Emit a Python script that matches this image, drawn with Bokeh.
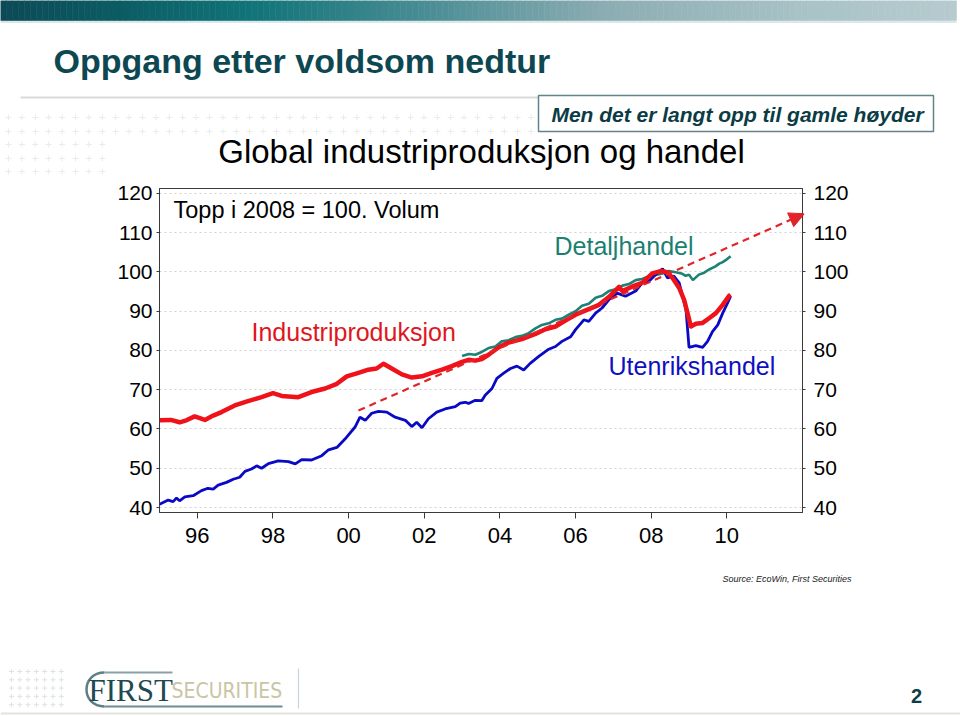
import numpy as np
from bokeh.plotting import figure
from bokeh.layouts import column
from bokeh.models import Range1d, LinearAxis, FixedTicker, Arrow, NormalHead, Plot
from bokeh.core.properties import value
from bokeh.embed import file_html
from bokeh.resources import INLINE

# ---------------- data ----------------
red_years = [1995.00, 1995.30, 1995.53, 1995.71, 1995.93, 1996.20, 1996.42, 1996.64, 1996.99,
             1997.34, 1997.70, 1998.00, 1998.23, 1998.67, 1999.02, 1999.38, 1999.69, 1999.95,
             2000.26, 2000.52, 2000.74, 2000.92, 2001.14, 2001.41, 2001.67, 2001.94, 2002.20,
             2002.47, 2002.73, 2003.00, 2003.17, 2003.35, 2003.52, 2003.70, 2003.97, 2004.23,
             2004.58, 2004.94, 2005.20, 2005.47, 2005.73, 2006.00, 2006.35, 2006.62, 2006.88,
             2007.15, 2007.24, 2007.50, 2007.76, 2008.03, 2008.25, 2008.43, 2008.56, 2008.74,
             2008.87, 2008.96, 2009.05, 2009.18, 2009.36, 2009.53, 2009.71, 2009.89, 2010.06,
             2010.10]
red_values = [62.2, 62.3, 61.7, 62.2, 63.2, 62.3, 63.4, 64.3, 66.0,
              67.1, 68.1, 69.1, 68.4, 68.1, 69.4, 70.3, 71.5, 73.4,
              74.3, 75.1, 75.4, 76.6, 75.4, 73.9, 73.1, 73.4, 74.3,
              75.1, 76.0, 77.1, 77.6, 77.4, 77.8, 78.9, 80.8, 82.0,
              82.9, 84.2, 85.4, 86.1, 87.6, 89.1, 90.5, 91.6, 93.6,
              96.2, 95.1, 96.3, 97.2, 99.6, 100.2, 99.9, 98.5, 95.9,
              92.9, 89.5, 86.1, 86.8, 87.0, 88.2, 89.5, 91.6, 93.9,
              94.2]

blue_years = [1995.00, 1995.23, 1995.36, 1995.45, 1995.53, 1995.67, 1995.89, 1996.11, 1996.28,
              1996.42, 1996.55, 1996.77, 1996.95, 1997.12, 1997.26, 1997.43, 1997.57, 1997.70,
              1997.88, 1998.14, 1998.41, 1998.59, 1998.76, 1999.02, 1999.29, 1999.47, 1999.69,
              1999.91, 2000.17, 2000.30, 2000.44, 2000.61, 2000.79, 2001.01, 2001.23, 2001.50,
              2001.67, 2001.80, 2001.94, 2002.11, 2002.33, 2002.55, 2002.82, 2002.95, 2003.08,
              2003.17, 2003.35, 2003.52, 2003.61, 2003.79, 2003.92, 2004.10, 2004.28, 2004.45,
              2004.63, 2004.80, 2005.02, 2005.29, 2005.47, 2005.64, 2005.87, 2006.00, 2006.22,
              2006.35, 2006.53, 2006.70, 2006.88, 2007.10, 2007.32, 2007.59, 2007.76, 2007.94,
              2008.12, 2008.30, 2008.43, 2008.60, 2008.74, 2008.92, 2009.00, 2009.18, 2009.36,
              2009.49, 2009.62, 2009.76, 2009.89, 2010.02, 2010.10]
blue_values = [40.8, 41.9, 41.5, 42.4, 41.7, 42.7, 43.0, 44.3, 44.9,
               44.7, 45.7, 46.4, 47.2, 47.7, 49.2, 49.8, 50.6, 50.0,
               51.2, 51.9, 51.7, 51.1, 52.2, 52.1, 53.2, 54.7, 55.3,
               57.5, 60.5, 63.0, 62.2, 64.0, 64.5, 64.3, 63.0, 62.2,
               60.6, 61.7, 60.3, 62.6, 64.3, 65.1, 65.7, 66.6, 66.8,
               66.5, 67.3, 67.2, 68.6, 70.3, 72.9, 74.2, 75.4, 76.0,
               75.0, 76.7, 78.4, 80.3, 81.0, 82.3, 83.5, 85.3, 87.8,
               87.4, 89.5, 90.8, 92.9, 94.6, 93.8, 95.1, 97.2, 97.6,
               99.3, 100.8, 98.5, 98.9, 97.2, 90.4, 80.8, 81.2, 80.8,
               82.3, 84.8, 86.5, 89.5, 92.1, 93.8]

teal_years = [2003.00, 2003.18, 2003.35, 2003.52, 2003.70, 2003.88, 2004.05, 2004.23, 2004.41,
              2004.58, 2004.76, 2004.94, 2005.11, 2005.29, 2005.47, 2005.64, 2005.82, 2006.00,
              2006.17, 2006.35, 2006.53, 2006.70, 2006.88, 2007.06, 2007.24, 2007.41, 2007.59,
              2007.76, 2007.94, 2008.12, 2008.30, 2008.47, 2008.65, 2008.80, 2008.91, 2009.00,
              2009.10, 2009.18, 2009.26, 2009.40, 2009.53, 2009.70, 2009.80, 2009.89, 2010.00,
              2010.10]
teal_values = [78.6, 79.1, 78.9, 79.6, 80.6, 81.0, 82.3, 82.6, 83.4,
               83.7, 84.4, 85.6, 86.5, 86.9, 87.8, 88.1, 89.1, 90.0,
               91.4, 91.9, 93.4, 93.9, 95.1, 95.6, 96.5, 96.9, 97.9,
               98.2, 98.9, 99.2, 99.6, 100.2, 99.9, 99.6, 99.0, 99.3,
               97.9, 98.6, 99.3, 99.8, 100.6, 101.4, 102.1, 102.5, 103.2,
               104.0]

trend_years = [2000.26, 2012.05]
trend_values = [64.7, 114.8]

xtick_years = [1996, 1998, 2000, 2002, 2004, 2006, 2008, 2010]
xtick_labels = ["96", "98", "00", "02", "04", "06", "08", "10"]
ytick_values = [40, 50, 60, 70, 80, 90, 100, 110, 120]

# ---------------- styles / geometry ----------------
FONT = "Liberation Sans"
RED = "#f0121a"
RED_D = "#e0242a"
BLUE = "#0a0ac4"
TEAL = "#1b8275"
DARK = "#0d4852"
PAGE_W = 960
TOP_H, CHART_H = 178, 382          # page rows 0-178, 178-560, 560-716
BOT_H = 716 - TOP_H - CHART_H

X_LO, X_HI = 1995.0, 2012.0
Y_LO, Y_HI = 38.73, 121.23
FR_L, FR_R, FR_T, FR_B = 159, 802, 188, 512   # page pixels of the plot frame

HAS_FRAME_ALIGN = "frame_align" in Plot.properties()


def yr(X):
    return X_LO + (X - FR_L) * (X_HI - X_LO) / (FR_R - FR_L)


def val(Y):
    return Y_HI - (Y - FR_T) * (Y_HI - Y_LO) / (FR_B - FR_T)


def no_align(f):
    if HAS_FRAME_ALIGN:
        f.frame_align = False
    return f


def deco_fig(y_top, y_bot):
    f = figure(width=PAGE_W, height=y_bot - y_top, x_range=Range1d(0, PAGE_W),
               y_range=Range1d(y_bot, y_top), output_backend="svg", toolbar_location=None,
               title=None, x_axis_location=None, y_axis_location=None, min_border=0)
    f.grid.visible = False
    f.outline_line_color = None
    f.background_fill_color = "white"
    f.border_fill_color = "white"
    return no_align(f)


def txt(f, X, Y, text, size, color="black", style="normal", align="left", font=FONT):
    # Y is the vertical centre of the capital letters
    f.text(x=[X], y=[Y], text=[text], text_font=value(font), text_font_size=size,
           text_font_style=style, text_color=color, text_align=align, text_baseline="middle")


# ---------------- top decoration ----------------
top = deco_fig(0, TOP_H)
stops_x = [0, 120, 250, 420, 600, 800, 960]
stops_c = np.array([(12, 74, 86), (12, 92, 100), (16, 116, 120), (72, 140, 148),
                    (138, 172, 178), (168, 194, 198), (182, 203, 207)], dtype=float)
edges = np.linspace(0, 956, 161)
mids = (edges[:-1] + edges[1:]) / 2
gcols = ["#%02x%02x%02x" % tuple(int(round(np.interp(m, stops_x, stops_c[:, k]))) for k in range(3))
         for m in mids]
top.quad(left=edges[:-1], right=edges[1:], top=0, bottom=20, fill_color=gcols, line_color=gcols,
         line_width=0.6)
top.segment(x0=[0], y0=[21.5], x1=[956], y1=[21.5], line_color="#cfe0e0", line_width=1.5)

pat_x, pat_y = [], []
for row, yy in enumerate([117, 131, 144, 158, 171]):
    xs = np.arange(8, 540, 13.4) if row < 2 else np.arange(8, 104, 13.4)
    pat_x += list(xs)
    pat_y += [yy] * len(xs)
top.scatter(pat_x, pat_y, marker="cross", size=6, line_color="#e8ecec", line_width=1)

txt(top, 53, 60.5, "Oppgang etter voldsom nedtur", "34px", DARK, "bold")
top.segment(x0=[20], y0=[97], x1=[538], y1=[97], line_color="#d5dcd5", line_width=2)
top.quad(left=[538], right=[933], top=[95], bottom=[131], fill_color="white",
         line_color="#5f8489", line_width=1.5)
txt(top, 737, 113.5, "Men det er langt opp til gamle høyder", "21px", "#0b3c45", "bold italic", "center")
txt(top, 481, 151, "Global industriproduksjon og handel", "33px", "black", "normal", "center")

# ---------------- chart ----------------
p = figure(width=PAGE_W, height=CHART_H, x_range=Range1d(X_LO, X_HI), y_range=Range1d(Y_LO, Y_HI),
           output_backend="svg", toolbar_location=None, title=None,
           min_border_left=FR_L, min_border_right=PAGE_W - FR_R,
           min_border_top=FR_T - TOP_H, min_border_bottom=TOP_H + CHART_H - FR_B)
no_align(p)
p.background_fill_color = "white"
p.border_fill_color = "white"
p.outline_line_color = "#3a3a3a"
p.outline_line_width = 1
p.xgrid.visible = False
p.ygrid.ticker = FixedTicker(ticks=ytick_values)
p.ygrid.grid_line_color = "#d2d2d2"
p.ygrid.grid_line_dash = "2 3"

ry = LinearAxis()
p.add_layout(ry, "right")

xa = p.xaxis[0]
ly = p.yaxis[0]
xa.ticker = FixedTicker(ticks=xtick_years)
xa.major_label_overrides = {t: lab for t, lab in zip(xtick_years, xtick_labels)}
for ax in (ly, ry):
    ax.ticker = FixedTicker(ticks=ytick_values)
    ax.major_label_text_font_size = "21px"
    ax.major_tick_out = 3
xa.major_label_text_font_size = "22px"
xa.major_tick_out = 6
xa.major_label_standoff = 9
ly.major_label_standoff = 4
ry.major_label_standoff = 8
for ax in (xa, ly, ry):
    ax.axis_line_color = "#3a3a3a"
    ax.major_tick_line_color = "#3a3a3a"
    ax.major_tick_in = 0
    ax.minor_tick_line_color = None
    ax.major_label_text_font = FONT
    ax.major_label_text_color = "black"

p.line(teal_years, teal_values, line_color=TEAL, line_width=2.6)
p.line(blue_years, blue_values, line_color=BLUE, line_width=2.8)
p.line(red_years, red_values, line_color=RED, line_width=4.5, line_join="round")

p.add_layout(Arrow(end=NormalHead(size=15, fill_color=RED_D, line_color=RED_D, line_width=1),
                   x_start=trend_years[0], y_start=trend_values[0],
                   x_end=trend_years[1], y_end=trend_values[1],
                   line_color=RED_D, line_width=2.2, line_dash="7 5"))

txt(p, yr(173), val(209.2), "Topp i 2008 = 100. Volum", "23.5px", "black")
txt(p, yr(251), val(331.7), "Industriproduksjon", "25px", "#e0161e")
txt(p, yr(554), val(245.3), "Detaljhandel", "25px", "#1b7f72")
txt(p, yr(608), val(365), "Utenrikshandel", "25px", "#1010c0")

# ---------------- bottom decoration ----------------
bot = deco_fig(TOP_H + CHART_H, 716)
txt(bot, 722, 578.3, "Source: EcoWin, First Securities", "9px", "#222222", "italic")

bx, byy = [], []
for i in range(7):
    for j in range(5):
        bx.append(11 + 8.3 * i)
        byy.append(671 + 8.3 * j)
bot.scatter(bx, byy, marker="cross", size=5, line_color="#dde2e2", line_width=1)

bot.bezier(x0=[104], y0=[672], x1=[104], y1=[706], cx0=[80], cy0=[672], cx1=[80], cy1=[706],
           line_color="#5d7f86", line_width=2.5)
bot.segment(x0=[104, 104], y0=[672, 706], x1=[172, 282], y1=[672, 706],
            line_color=["#8aa2a6", "#6e8c92"], line_width=2.2)
txt(bot, 88, 690, "FIRST", "31px", "#1d4a52", font="Liberation Serif")
txt(bot, 171, 690, "SECURITIES", "21px", "#c9c5a2",
    font="'Liberation Sans Narrow', 'DejaVu Sans Condensed', sans-serif")
bot.segment(x0=[298], y0=[668], x1=[298], y1=[708], line_color="#c8d4dc", line_width=1.2)
txt(bot, 916, 695.5, "2", "20px", "#0b3f48", "bold", "center")
bot.segment(x0=[0], y0=[713], x1=[960], y1=[713], line_color="#e2e4dc", line_width=2)

layout = column(top, p, bot, spacing=0)
open("out.html", "w").write(file_html(layout, INLINE))
